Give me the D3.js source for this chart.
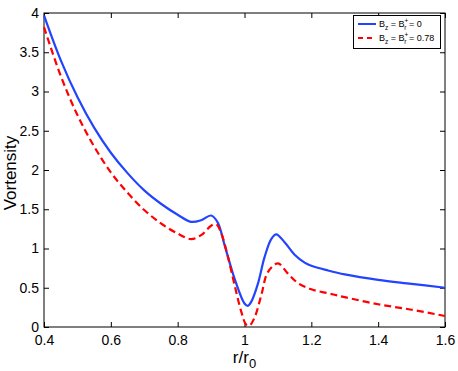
<!DOCTYPE html>
<html>
<head>
<meta charset="utf-8">
<script src="https://cdn.jsdelivr.net/npm/d3@7"></script>
<style>
  body { margin: 0; background: #fff; }
  text { font-family: "Liberation Sans", Arial, sans-serif; }
</style>
</head>
<body>
<div id="chart"></div>
<script>
// Données
const rBlue = [0.40, 0.45, 0.50, 0.55, 0.60, 0.65, 0.70, 0.75, 0.80, 0.84, 0.87, 0.90, 0.92, 0.94, 0.97, 1.00, 1.01, 1.02, 1.04, 1.06, 1.08, 1.095, 1.12, 1.15, 1.18, 1.20, 1.25, 1.30, 1.40, 1.50, 1.60];
const vBlue = [3.97, 3.40, 2.93, 2.54, 2.22, 1.96, 1.74, 1.57, 1.43, 1.34, 1.36, 1.42, 1.33, 1.05, 0.62, 0.30, 0.27, 0.32, 0.55, 0.89, 1.12, 1.18, 1.08, 0.92, 0.82, 0.78, 0.72, 0.67, 0.60, 0.55, 0.50];

const rRed = [0.40, 0.45, 0.50, 0.55, 0.60, 0.65, 0.70, 0.75, 0.80, 0.84, 0.87, 0.90, 0.915, 0.93, 0.95, 0.97, 0.99, 1.005, 1.015, 1.03, 1.05, 1.07, 1.10, 1.13, 1.16, 1.20, 1.25, 1.30, 1.40, 1.50, 1.60];
const vRed = [3.82, 3.20, 2.70, 2.30, 1.97, 1.71, 1.49, 1.32, 1.19, 1.12, 1.17, 1.29, 1.31, 1.20, 0.90, 0.54, 0.20, 0.03, 0.02, 0.12, 0.40, 0.70, 0.81, 0.68, 0.56, 0.48, 0.43, 0.38, 0.29, 0.22, 0.14];

const xTicks = [0.4, 0.6, 0.8, 1, 1.2, 1.4, 1.6];
const yTicks = [0, 0.5, 1, 1.5, 2, 2.5, 3, 3.5, 4];

const width = 458, height = 371;
const margin = { left: 44, right: 13, top: 13, bottom: 44 };

const svg = d3.select("#chart").append("svg")
    .attr("width", width)
    .attr("height", height);

const x = d3.scaleLinear().domain([0.4, 1.6]).range([margin.left, width - margin.right]);
const y = d3.scaleLinear().domain([0, 4]).range([height - margin.bottom, margin.top]);

// Axes style MATLAB : graduations vers l'intérieur
svg.append("g")
    .attr("transform", `translate(0, ${y(0)})`)
    .call(d3.axisBottom(x).tickValues(xTicks).tickSize(-5).tickPadding(8).tickFormat(d3.format("")))
    .call(g => g.select(".domain").remove());

svg.append("g")
    .attr("transform", `translate(0, ${y(4)})`)
    .call(d3.axisTop(x).tickValues(xTicks).tickSize(-5).tickFormat(""))
    .call(g => g.select(".domain").remove());

svg.append("g")
    .attr("transform", `translate(${x(0.4)}, 0)`)
    .call(d3.axisLeft(y).tickValues(yTicks).tickSize(-5).tickPadding(5).tickFormat(d3.format("")))
    .call(g => g.select(".domain").remove());

svg.append("g")
    .attr("transform", `translate(${x(1.6)}, 0)`)
    .call(d3.axisRight(y).tickValues(yTicks).tickSize(-5).tickFormat(""))
    .call(g => g.select(".domain").remove());

svg.selectAll(".tick text")
    .attr("font-size", "14px")
    .attr("font-family", "Liberation Sans, Arial, sans-serif")
    .attr("fill", "#000");
svg.selectAll(".tick line").attr("stroke", "#000");

svg.append("rect")
    .attr("x", x(0.4))
    .attr("y", y(4))
    .attr("width", x(1.6) - x(0.4))
    .attr("height", y(0) - y(4))
    .attr("fill", "none")
    .attr("stroke", "#000")
    .attr("stroke-width", 1);

// Courbes
const line = d3.line()
    .x(d => x(d[0]))
    .y(d => y(d[1]))
    .curve(d3.curveCatmullRom.alpha(0.5));

svg.append("path")
    .datum(d3.zip(rBlue, vBlue))
    .attr("d", line)
    .attr("fill", "none")
    .attr("stroke", "#2244ff")
    .attr("stroke-width", 2.2);

svg.append("path")
    .datum(d3.zip(rRed, vRed))
    .attr("d", line)
    .attr("fill", "none")
    .attr("stroke", "#ff0000")
    .attr("stroke-width", 2.2)
    .attr("stroke-dasharray", "7,4");

// Titres des axes
const xlab = svg.append("text")
    .attr("x", x(1))
    .attr("y", 363)
    .attr("text-anchor", "middle")
    .attr("font-size", "17px");
xlab.append("tspan").text("r/r");
xlab.append("tspan").attr("dy", 5).attr("font-size", "13px").text("0");

svg.append("text")
    .attr("transform", `translate(16, 173) rotate(-90)`)
    .attr("text-anchor", "middle")
    .attr("font-size", "17px")
    .text("Vortensity");

// Légende
const legend = svg.append("g");
legend.append("rect")
    .attr("x", 353.5).attr("y", 15.5)
    .attr("width", 87).attr("height", 33)
    .attr("fill", "#fff")
    .attr("stroke", "#000");

const entries = [
    { color: "#2244ff", dash: null, val: "0" },
    { color: "#ff0000", dash: "5,4", val: "0.78" }
];
entries.forEach((e, i) => {
    const yy = 24 + i * 14;
    legend.append("line")
        .attr("x1", 358).attr("x2", 376)
        .attr("y1", yy).attr("y2", yy)
        .attr("stroke", e.color)
        .attr("stroke-width", 2)
        .attr("stroke-dasharray", e.dash);
    const t = legend.append("text")
        .attr("x", 379).attr("y", yy + 3)
        .attr("font-size", "9px");
    t.append("tspan").text("B");
    t.append("tspan").attr("dy", 3).attr("font-size", "6.5px").text("z");
    t.append("tspan").attr("dy", -3).text(" = B");
    t.append("tspan").attr("dy", -4).attr("font-size", "6.5px").text("+");
    t.append("tspan").attr("dx", -4).attr("dy", 7).attr("font-size", "6.5px").text("r");
    t.append("tspan").attr("dy", -3).text(" = " + e.val);
});
</script>
</body>
</html>
